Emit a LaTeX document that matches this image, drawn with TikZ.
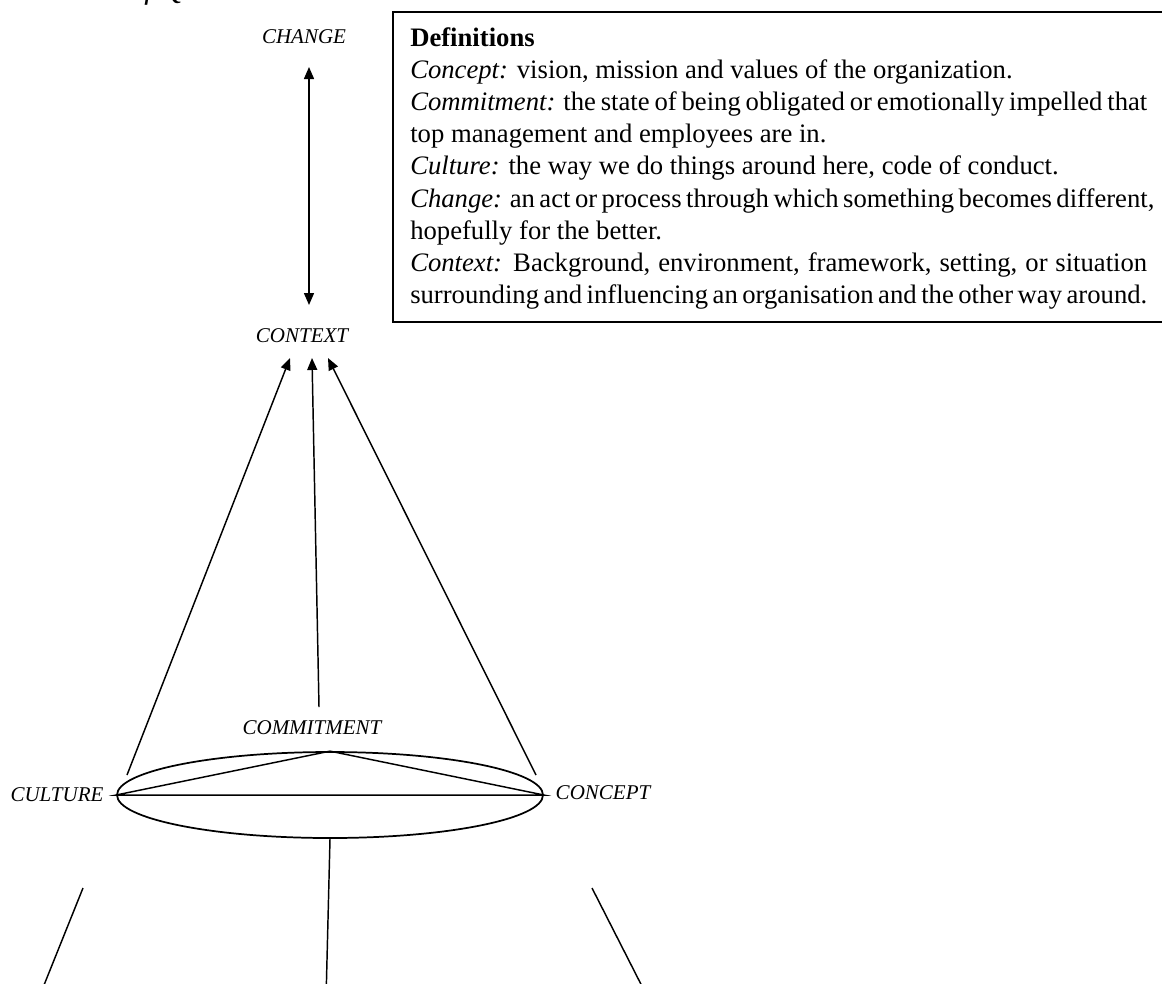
\documentclass[tikz,border=0pt]{standalone}
\usepackage{fontspec}
\setmainfont{Liberation Serif}
\usetikzlibrary{arrows.meta,shapes.geometric}
\begin{document}
\begin{tikzpicture}[x=0.75pt,y=-0.75pt,
  lbl/.style={font=\fontsize{15.75pt}{18pt}\selectfont\itshape, inner sep=0},
  conn/.style={line width=1.1pt},
  arr/.style={conn,-{Triangle[length=9pt,width=7.5pt]}},
  dblarr/.style={conn,{Triangle[length=9pt,width=7.5pt]}-{Triangle[length=9pt,width=7.5pt]}},
  deftext/.style={anchor=base west, inner sep=0, font=\fontsize{20pt}{24pt}\selectfont},
  ]
\useasboundingbox (0,0) rectangle (1162,983);

% cut-off caption fragment at the top
\node[anchor=base west, inner sep=0, font=\fontsize{24pt}{28pt}\selectfont\itshape] (frag) at (128,-2) {of Q};

% definitions box
\draw[line width=1.2pt] (393,12) rectangle (1172,322);
\def\defw{552.75pt}
\node[deftext] (d1) at (410,46) {\textbf{Definitions}};
\node[deftext] (d2) at (410,78.2) {\textit{Concept:} vision, mission and values of the organization.};
\node[deftext] (d3) at (410,110.4) {\makebox[\defw][s]{\textit{Commitment:} the state of being obligated or emotionally impelled that}};
\node[deftext] (d4) at (410,142.6) {top management and employees are in.};
\node[deftext] (d5) at (410,174.8) {\textit{Culture:} the way we do things around here, code of conduct.};
\node[deftext] (d6) at (410,207) {\makebox[\defw][s]{\textit{Change:} an act or process through which something becomes different,}};
\node[deftext] (d7) at (410,239.2) {hopefully for the better.};
\node[deftext] (d8) at (410,271.4) {\makebox[\defw][s]{\textit{Context:} Background, environment, framework, setting, or situation}};
\node[deftext] (d9) at (410,303.6) {\makebox[\defw][s]{surrounding and influencing an organisation and the other way around.}};

% labels
\node[lbl] (change) at (304,37) {CHANGE};
\node[lbl] (context) at (302,336) {CONTEXT};
\node[lbl] (commit) at (312,728) {COMMITMENT};
\node[lbl] (culture) at (57,795) {CULTURE};
\node[lbl] (concept) at (603,793) {CONCEPT};

% ellipse with triangle
\node[draw, ellipse, line width=1.3pt, minimum width=319.5pt, minimum height=64.5pt, inner sep=0] (ell) at (330,795) {};
\draw[conn] (ell.west) -- (ell.north) -- (ell.east) -- cycle;

% change <-> context
\coordinate (chgTip) at (309,67);
\coordinate (ctxTop) at (309,305);
\draw[dblarr] (chgTip) -- (ctxTop);

% arrows to context
\coordinate (ctxL) at (290,358);
\coordinate (ctxM) at (312,358);
\coordinate (ctxR) at (328,358);
\coordinate (fromL) at (127,775);
\coordinate (fromM) at (319,707);
\coordinate (fromR) at (536,775);
\draw[arr] (fromL) -- (ctxL);
\draw[arr] (fromM) -- (ctxM);
\draw[arr] (fromR) -- (ctxR);

% lines running down out of the picture
\coordinate (lowL) at (83,888);
\coordinate (lowLend) at (38,1000);
\coordinate (lowMend) at (326,1000);
\coordinate (lowR) at (592,888);
\coordinate (lowRend) at (649,1000);
\draw[conn] (lowL) -- (lowLend);
\draw[conn] (ell.south) -- (lowMend);
\draw[conn] (lowR) -- (lowRend);
\end{tikzpicture}
\end{document}
